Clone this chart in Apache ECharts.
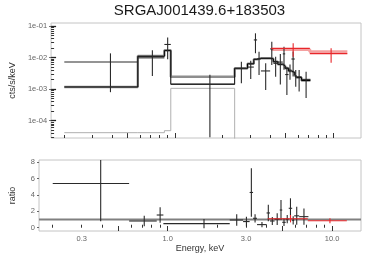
<!DOCTYPE html>
<html><head><meta charset="utf-8">
<script src="https://cdn.jsdelivr.net/npm/echarts@6/dist/echarts.min.js"></script>
<style>html,body{margin:0;padding:0;background:#fff}#c{width:366px;height:258px}</style>
</head><body><div id="c"></div>
<script>
const chartTitle = 'SRGAJ001439.6+183503';
// black instrument: bin centres and half widths (keV)
const eCenter = [0.3915,0.7205,0.900,1.664,2.631,3.0145,3.230,3.402,3.7475,4.0955,4.3315,4.638,4.8915,5.1015,5.338,5.586,5.803,6.097,6.747];
const eHalf   = [0.1915,0.1375,0.042,0.722,0.245,0.1385,0.077,0.095,0.2505,0.0975,0.1385,0.168,0.0855,0.1245,0.112,0.136,0.081,0.213,0.437];
const dataY   = [7.2e-3,9.8e-3,2.6e-2,1.45e-3,4.47e-3,5.0e-3,3.62e-2,9.1e-3,3.77e-3,1.88e-2,6.57e-3,7.2e-3,1.31e-2,2.9e-3,4.0e-3,9.0e-3,2.6e-3,2.44e-3,2.04e-3];
const dataErr = [6.4e-3,7.2e-3,1.72e-2,1.42e-3,2.94e-3,2.9e-3,2.25e-2,6.3e-3,2.83e-3,1.3e-2,4.1e-3,5.8e-3,9e-3,2.25e-3,2.0e-3,6.5e-3,1.42e-3,1.6e-3,1.52e-3];
const modelTotal = [1.17e-3,1.12e-2,1.70e-2,2.48e-3,4.57e-3,6.35e-3,8.82e-3,9.48e-3,9.48e-3,9.14e-3,7.40e-3,6.12e-3,5.41e-3,4.57e-3,3.76e-3,3.37e-3,2.81e-3,2.34e-3,1.88e-3];
const modelCompA = [1.17e-3,1.10e-2,1.66e-2,1.42e-3,4.57e-3,6.35e-3,8.82e-3,9.48e-3,9.48e-3,9.14e-3,7.40e-3,6.12e-3,5.41e-3,4.57e-3,3.76e-3,3.37e-3,2.81e-3,2.34e-3,1.88e-3];
const modelCompB = [4.17e-5,4.17e-5,4.83e-5,1.06e-3,1e-8,1e-8,1e-8,1e-8,1e-8,1e-8,1e-8,1e-8,1e-8,1e-8,1e-8,1e-8,1e-8,1e-8,1e-8];
const ratioY   = [5.4,0.82,1.55,0.5,0.94,0.75,4.3,1.15,0.38,1.8,0.82,1.04,2.16,0.66,1.05,2.37,0.9,1.45,1.35];
const ratioErr = [4.6,0.63,0.95,0.55,0.7,0.6,2.95,0.5,0.32,1.0,0.5,0.72,1.22,0.45,0.5,1.22,0.5,1.1,1.0];
// red instrument
const redCenter = [5.59, 9.71];
const redHalf   = [1.53, 2.59];
const redY      = [1.95e-2, 1.33e-2];
const redErr    = [0.88e-2, 0.64e-2];
const redModel  = [1.80e-2, 1.535e-2];
const redRatio    = [1.1, 0.85];
const redRatioErr = [0.45, 0.3];
// axes
const xMin = 0.165, xMax = 15;
const yTopMin = 2.83e-5, yTopMax = 0.1245;
const ratioMin = -0.4, ratioMax = 8.26;
const xLabelValues = [0.3, 1, 3, 10];
const xLabelTexts = ['0.3', '1.0', '3.0', '10.0'];
const xMinorTicks = [0.2,0.3,0.4,0.6,0.7,0.8,0.9,2,3,4,6,7,8,9];
const xMajorTicks = [0.5,1,5,10];
const yTopLabelValues = [1e-4,1e-3,1e-2,1e-1];
const yTopLabelTexts = ['1e-04','1e-03','1e-02','1e-01'];
const yTopMinor = [3e-5,4e-5,5e-5,6e-5,7e-5,8e-5,9e-5,2e-4,3e-4,4e-4,5e-4,6e-4,7e-4,8e-4,9e-4,2e-3,3e-3,4e-3,5e-3,6e-3,7e-3,8e-3,9e-3,2e-2,3e-2,4e-2,5e-2,6e-2,7e-2,8e-2,9e-2];
const ratioLabelValues = [0,2,4,6,8];
const ratioOne = [1, 1];

const FONT = 'Liberation Sans';
function fmt(values, texts){ return function(v){ const i = values.findIndex(t => Math.abs(t - v) <= Math.abs(t) * 1e-6 + 1e-12); return i >= 0 ? texts[i] : ''; }; }
function steps(c, h, v){ const p = []; for (let i = 0; i < c.length; i++){ p.push([c[i]-h[i], v[i]]); p.push([c[i]+h[i], v[i]]); } return p; }
function crosses(c, h, v, e){ return c.map((x, i) => [x, h[i], v[i], e[i]]); }
function errSeries(xi, yi, data, color, lowClamp){
  return { type:'custom', xAxisIndex:xi, yAxisIndex:yi, clip:true, silent:true, z:5,
    encode:{x:0, y:2}, data:data,
    renderItem:function(params, api){
      const xc = api.value(0), xh = api.value(1), y = api.value(2), e = api.value(3);
      let lo = y - e; if (lowClamp !== null && lo < lowClamp) lo = lowClamp;
      const a = api.coord([xc - xh, y]), b = api.coord([xc + xh, y]);
      const t = api.coord([xc, y + e]), d = api.coord([xc, lo]);
      const st = {stroke:color, lineWidth:1.1};
      return {type:'group', children:[
        {type:'line', shape:{x1:a[0], y1:a[1], x2:b[0], y2:b[1]}, style:st},
        {type:'line', shape:{x1:t[0], y1:t[1], x2:d[0], y2:d[1]}, style:st}
      ]};
    } };
}
function stepLine(xi, yi, pts, color, width, z){
  return { type:'line', xAxisIndex:xi, yAxisIndex:yi, data:pts, showSymbol:false, symbol:'none', silent:true, clip:true, z:z,
    lineStyle:{color:color, width:width}, animation:false };
}
const labelStyle = {color:'#666', fontSize:7.5, fontFamily:FONT};
function xAxisDef(grid, ticks, len, labels){
  return { type:'log', gridIndex:grid, min:xMin, max:xMax, position:'bottom', logBase:10,
    axisLine:{show:false}, splitLine:{show:false},
    axisTick:{show:true, inside:true, length:len, customValues:ticks, lineStyle:{color:'#333', width:1}},
    axisLabel: labels ? Object.assign({show:true, margin:4, customValues:xLabelValues, formatter:fmt(xLabelValues, xLabelTexts)}, labelStyle) : {show:false} };
}
const option = {
  animation:false,
  backgroundColor:'#fff',
  graphic:[{type:'text', x:199.5, y:3, style:{text:chartTitle, font:'15px "Liberation Sans"', fill:'#1a1a1a', textAlign:'center', textVerticalAlign:'top'}}],
  grid:[
    {left:38, top:23, right:5, height:115, show:true, borderColor:'#c4c4c4', borderWidth:1, backgroundColor:'#fff'},
    {left:38, top:160, right:5, height:71, show:true, borderColor:'#c4c4c4', borderWidth:1, backgroundColor:'#fff'}
  ],
  xAxis:[
    xAxisDef(0, xMinorTicks, 3, false),
    xAxisDef(0, xMajorTicks, 5, false),
    Object.assign(xAxisDef(1, xMinorTicks, 3, true), {name:'Energy, keV', nameLocation:'middle', nameGap:13, nameTextStyle:{color:'#333', fontSize:9, fontFamily:FONT}}),
    xAxisDef(1, xMajorTicks, 5, false)
  ],
  yAxis:[
    { type:'log', gridIndex:0, min:yTopMin, max:yTopMax, position:'left', logBase:10,
      name:'cts/s/keV', nameLocation:'middle', nameGap:22, nameTextStyle:{color:'#333', fontSize:9, fontFamily:FONT},
      axisLine:{show:false}, splitLine:{show:false},
      axisTick:{show:true, inside:false, length:2, customValues:yTopLabelValues, lineStyle:{color:'#666'}},
      axisLabel:Object.assign({margin:4, customValues:yTopLabelValues, formatter:fmt(yTopLabelValues, yTopLabelTexts)}, labelStyle) },
    { type:'log', gridIndex:0, min:yTopMin, max:yTopMax, position:'left', logBase:10,
      axisLine:{show:false}, splitLine:{show:false}, axisLabel:{show:false},
      axisTick:{show:true, inside:true, length:3, customValues:yTopMinor, lineStyle:{color:'#333'}} },
    { type:'log', gridIndex:0, min:yTopMin, max:yTopMax, position:'left', logBase:10,
      axisLine:{show:false}, splitLine:{show:false}, axisLabel:{show:false},
      axisTick:{show:true, inside:true, length:5, customValues:yTopLabelValues, lineStyle:{color:'#222', width:1.3}} },
    { type:'value', gridIndex:1, min:ratioMin, max:ratioMax, position:'left',
      name:'ratio', nameLocation:'middle', nameGap:22, nameTextStyle:{color:'#333', fontSize:9, fontFamily:FONT},
      axisLine:{show:false}, splitLine:{show:false},
      axisTick:{show:true, inside:false, length:2, customValues:ratioLabelValues, lineStyle:{color:'#666'}},
      axisLabel:Object.assign({margin:4, customValues:ratioLabelValues}, labelStyle) }
  ],
  series:[
    stepLine(0, 0, steps(eCenter, eHalf, modelCompB), '#b0b0b0', 1, 2),
    stepLine(0, 0, steps(eCenter, eHalf, modelTotal), '#8e8e8e', 2.4, 3),
    stepLine(0, 0, steps(eCenter, eHalf, modelCompA), '#000000', 1, 4),
    stepLine(0, 0, steps(redCenter, redHalf, redModel), '#f4a0a0', 3, 3),
    errSeries(0, 0, crosses(eCenter, eHalf, dataY, dataErr), '#2a2a2a', 1e-6),
    errSeries(0, 0, crosses(redCenter, redHalf, redY, redErr), '#e8262a', 1e-6),
    stepLine(2, 3, [[xMin, ratioOne[0]], [xMax, ratioOne[1]]], '#808080', 2, 3),
    errSeries(2, 3, crosses(eCenter, eHalf, ratioY, ratioErr), '#2a2a2a', null),
    errSeries(2, 3, crosses(redCenter, redHalf, redRatio, redRatioErr), '#e8262a', null)
  ]
};
const chart = echarts.init(document.getElementById('c'), null, {renderer:'canvas'});
chart.setOption(option);
</script></body></html>
